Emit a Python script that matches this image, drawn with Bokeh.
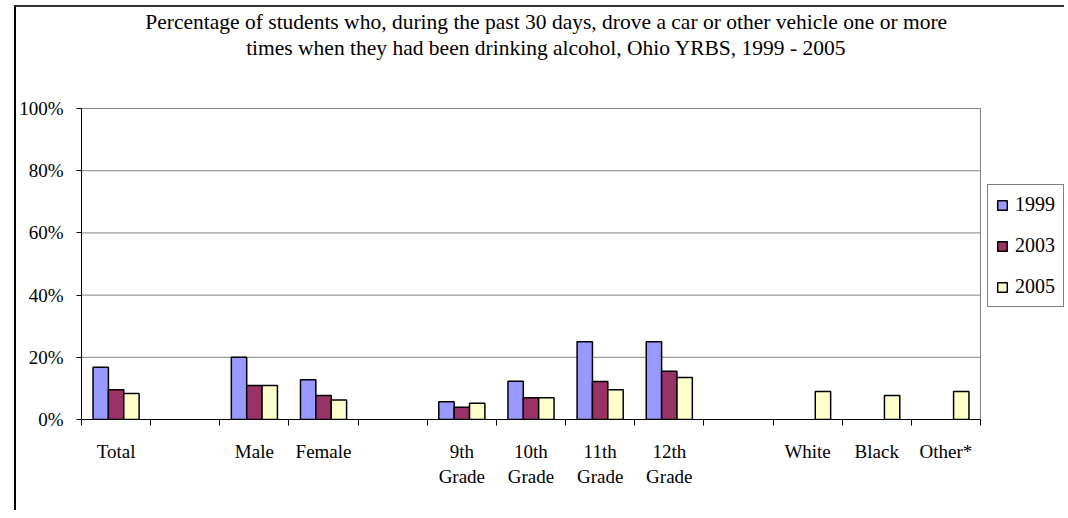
import numpy as np
from bokeh.plotting import figure
from bokeh.models import Range1d, FixedTicker, PrintfTickFormatter, ColumnDataSource
from bokeh.core.properties import value
from bokeh.embed import file_html
from bokeh.resources import INLINE

nan = float("nan")

categories = ["Total", "", "Male", "Female", "", "9th\nGrade", "10th\nGrade",
              "11th\nGrade", "12th\nGrade", "", "White", "Black", "Other*"]
series_names = ["1999", "2003", "2005"]
y1999 = [16.8, nan, 20.0, 12.8, nan, 5.7, 12.3, 25.0, 25.0, nan, nan, nan, nan]
y2003 = [9.6, nan, 10.9, 7.7, nan, 3.9, 7.0, 12.2, 15.5, nan, nan, nan, nan]
y2005 = [8.4, nan, 10.9, 6.3, nan, 5.2, 7.0, 9.6, 13.5, nan, 9.0, 7.7, 9.0]
y_ticks = [0, 20, 40, 60, 80, 100]
title_lines = ["Percentage of students who, during the past 30 days, drove a car or other vehicle one or more",
               "times when they had been drinking alcohol, Ohio YRBS, 1999 - 2005"]

colors = ["#9999FF", "#993366", "#FFFFCC"]
FONT = "Liberation Serif"

n = len(categories)
centers = np.arange(n) + 0.5
bw = 1 / 4.5
y_max = 100
x_end = 14.244   # plot area spans 0..n, the rest of the frame holds the legend
y_end = 132.5    # space above 100% holds the title

p = figure(width=1050, height=505, output_backend="svg", toolbar_location=None,
           x_range=Range1d(0, x_end), y_range=Range1d(0, y_end),
           min_border_left=65, min_border_right=0, min_border_top=0,
           min_border_bottom=93)
p.styles = {"border-top": "2px solid #333333", "border-left": "2px solid #000000",
            "margin-left": "14px", "margin-top": "5px"}
p.outline_line_color = None
p.xgrid.grid_line_color = None
p.ygrid.grid_line_color = None
p.background_fill_color = "white"
p.border_fill_color = "white"

# plot-area gridlines and right border
p.segment(x0=0, x1=n, y0=y_ticks[1:], y1=y_ticks[1:], line_color="#808080", line_width=1)
p.segment(x0=n, x1=n, y0=0, y1=y_max, line_color="#808080", line_width=1)

for vals, name, col, off in zip([y1999, y2003, y2005], series_names, colors, [-bw, 0, bw]):
    src = ColumnDataSource(dict(x=centers + off, top=vals))
    p.vbar(x="x", top="top", bottom=0, width=bw, source=src, fill_color=col,
           line_color="black", line_width=1.5, legend_label=name)

# x axis
xa = p.xaxis[0]
xa.bounds = (0, n)
xa.ticker = FixedTicker(ticks=list(centers), minor_ticks=list(range(n + 1)))
xa.major_label_overrides = {float(c): lab for c, lab in zip(centers, categories)}
xa.major_tick_line_color = None
xa.major_tick_out = 0
xa.major_tick_in = 0
xa.minor_tick_line_color = "black"
xa.minor_tick_out = 6
xa.minor_tick_in = 0
xa.axis_line_color = "black"
xa.major_label_text_font = FONT
xa.major_label_text_font_size = "19px"
xa.major_label_text_color = "black"
xa.major_label_standoff = 15
xa.major_label_text_line_height = 1.2

# y axis
ya = p.yaxis[0]
ya.bounds = (0, y_max)
ya.ticker = FixedTicker(ticks=y_ticks)
ya.formatter = PrintfTickFormatter(format="%d%%")
ya.major_tick_out = 5
ya.major_tick_in = 0
ya.minor_tick_line_color = None
ya.axis_line_color = "black"
ya.major_tick_line_color = "black"
ya.major_label_text_font = FONT
ya.major_label_text_font_size = "19px"
ya.major_label_text_color = "black"
ya.major_label_standoff = 13

# title
p.text(x=[6.72, 6.72], y=[127.8, 119.6], text=title_lines, text_align="center",
       text_baseline="middle", text_font=value(FONT), text_font_size="21.5px",
       text_color="black")

lg = p.legend[0]
lg.location = (906, 112)
lg.margin = 0
lg.padding = 8
lg.spacing = 18
lg.label_height = 22
lg.glyph_height = 12
lg.glyph_width = 12
lg.label_standoff = 7
lg.label_text_font = "'Liberation Serif', serif"
lg.label_text_font_size = "20px"
lg.label_text_color = "black"
lg.border_line_color = "black"
lg.border_line_width = 1
lg.background_fill_alpha = 1
lg.background_fill_color = "white"

open("out.html", "w").write(file_html(p, INLINE))
